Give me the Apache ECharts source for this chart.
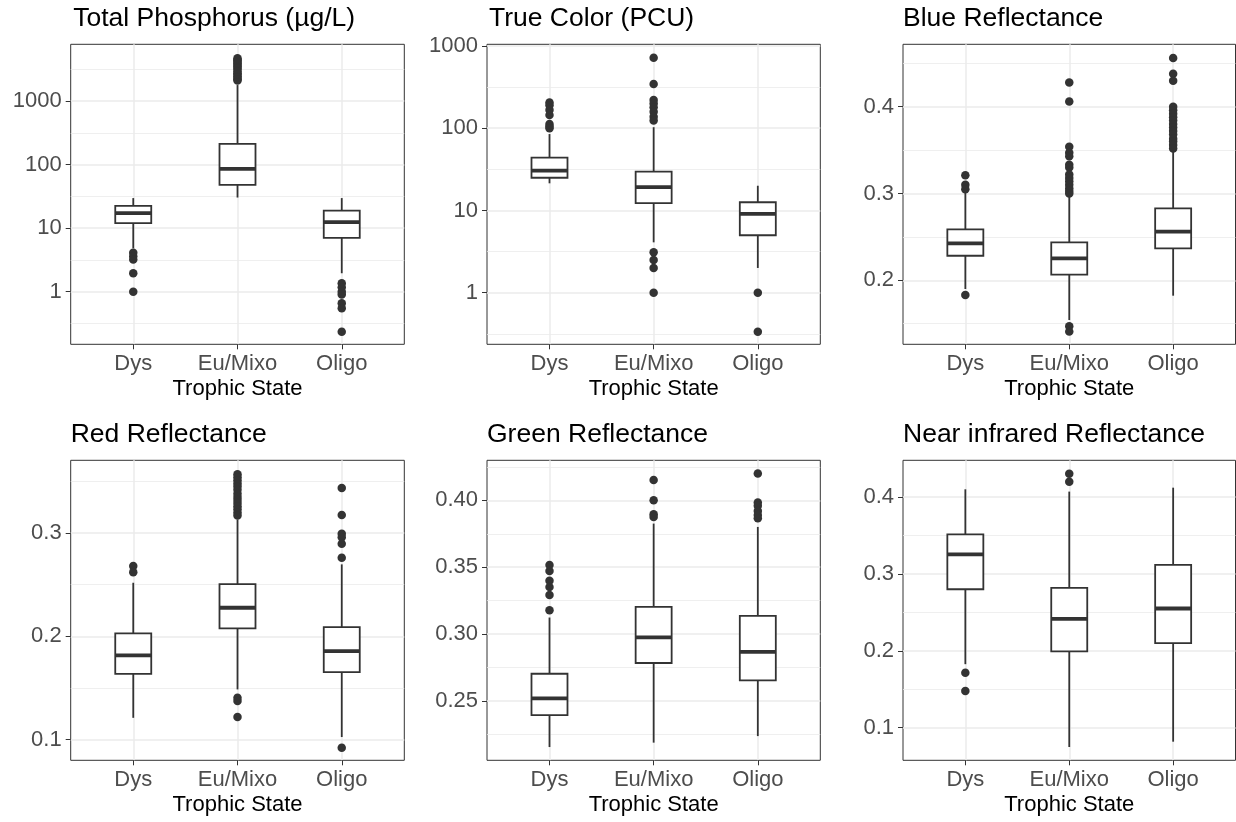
<!DOCTYPE html>
<html><head><meta charset="utf-8">
<script src="https://cdn.jsdelivr.net/npm/echarts@6/dist/echarts.min.js"></script>
<style>html,body{margin:0;padding:0;background:#fff}#c{width:1236px;height:822px}</style>
</head><body><div id="c"></div>
<script>
// ---------- data ----------
const categories = ['Dys', 'Eu/Mixo', 'Oligo'];
const xTitle = 'Trophic State';

// box stats per category: [lower whisker, Q1, median, Q3, upper whisker]
const tpBoxes = [[4.8, 12.0, 17.2, 22.4, 29.7], [30.3, 47.9, 85.5, 212, 1786], [1.95, 7.0, 12.4, 18.9, 29.7]];
const tpOutliers = [[4.1, 3.6, 3.2, 1.95, 1.0],
  [2100, 2200, 2300, 2450, 2600, 2750, 2900, 3100, 3300, 3500, 3700, 3900, 4100, 4300, 4500, 4700],
  [1.36, 1.17, 1.0, 0.9, 0.66, 0.55, 0.234]];
const tpRange = [0.1485, 7816];
const tpTicks = [1, 10, 100, 1000];
const tpMinor = [0.316, 3.16, 31.6, 316, 3162];

const tcBoxes = [[21.4, 25, 30.5, 43.9, 85], [4.1, 12.3, 19.2, 29.7, 103], [2.0, 5.0, 9.1, 12.6, 20]];
const tcOutliers = [[205, 190, 167, 145, 113, 105, 100],
  [721, 346, 221, 200, 180, 159, 138, 124, 3.1, 2.5, 2.0, 1.0],
  [1.0, 0.335]];
const tcRange = [0.236, 1049];
const tcTicks = [1, 10, 100, 1000];
const tcMinor = [0.316, 3.16, 31.6, 316];

const blueBoxes = [[0.19, 0.2283, 0.2426, 0.2588, 0.301], [0.1543, 0.2065, 0.2253, 0.2438, 0.297], [0.1823, 0.2369, 0.256, 0.2829, 0.35]];
const blueOutliers = [[0.321, 0.310, 0.305, 0.183],
  [0.428, 0.406, 0.354, 0.347, 0.343, 0.333, 0.330, 0.322, 0.318, 0.314, 0.310, 0.306, 0.303, 0.300, 0.147, 0.141],
  [0.456, 0.438, 0.430, 0.400, 0.396, 0.392, 0.388, 0.384, 0.380, 0.376, 0.372, 0.368, 0.363, 0.360, 0.356, 0.352]];
const blueRange = [0.1263, 0.4719];
const blueTicks = [0.2, 0.3, 0.4];
const blueMinor = [0.15, 0.25, 0.35, 0.45];

const redBoxes = [[0.1212, 0.1638, 0.1816, 0.2029, 0.2519], [0.1487, 0.2077, 0.2277, 0.2506, 0.313], [0.1026, 0.1654, 0.1858, 0.209, 0.2697]];
const redOutliers = [[0.268, 0.262],
  [0.357, 0.354, 0.351, 0.348, 0.345, 0.342, 0.338, 0.335, 0.332, 0.329, 0.326, 0.323, 0.320, 0.317, 0.1406, 0.1374, 0.1219],
  [0.3436, 0.3174, 0.2993, 0.296, 0.2897, 0.2761, 0.0923]];
const redRange = [0.0801, 0.3704];
const redTicks = [0.1, 0.2, 0.3];
const redMinor = [0.15, 0.25, 0.35];

const greenBoxes = [[0.2156, 0.2395, 0.252, 0.2704, 0.3124], [0.2189, 0.2784, 0.2975, 0.3203, 0.3826], [0.2238, 0.2655, 0.2868, 0.3136, 0.3801]];
const greenOutliers = [[0.3517, 0.3472, 0.3398, 0.3353, 0.3293, 0.3179],
  [0.4152, 0.40, 0.3895, 0.3875],
  [0.42, 0.3984, 0.396, 0.392, 0.389, 0.3866]];
const greenRange = [0.2057, 0.4299];
const greenTicks = [0.25, 0.30, 0.35, 0.40];
const greenMinor = [0.225, 0.275, 0.325, 0.375, 0.425];

const nirBoxes = [[0.1826, 0.28, 0.3255, 0.3515, 0.41], [0.0749, 0.1992, 0.2416, 0.2818, 0.407], [0.0818, 0.21, 0.255, 0.3117, 0.4121]];
const nirOutliers = [[0.1715, 0.1477], [0.4303, 0.4199], []];
const nirRange = [0.0576, 0.4477];
const nirTicks = [0.1, 0.2, 0.3, 0.4];
const nirMinor = [0.15, 0.25, 0.35];

// ---------- layout / style ----------
const FONT = "'Liberation Sans', Arial, Helvetica, sans-serif";
const INK = '#333333';
const GRID_COL = '#EBEBEB';
const BOX_W = 36;
const PANEL_H = 300;

const panels = [
  {title: 'Total Phosphorus (\u00b5g/L)', boxes: tpBoxes, out: tpOutliers, range: tpRange, ticks: tpTicks, minor: tpMinor, log: true, dec: 0, left: 70.7, top: 44.3, width: 333.6, tdx: 2.5},
  {title: 'True Color (PCU)', boxes: tcBoxes, out: tcOutliers, range: tcRange, ticks: tcTicks, minor: tcMinor, log: true, dec: 0, left: 487, top: 44.3, width: 333.3, tdx: 2},
  {title: 'Blue Reflectance', boxes: blueBoxes, out: blueOutliers, range: blueRange, ticks: blueTicks, minor: blueMinor, log: false, dec: 1, left: 903, top: 44.3, width: 332.5, tdx: 0},
  {title: 'Red Reflectance', boxes: redBoxes, out: redOutliers, range: redRange, ticks: redTicks, minor: redMinor, log: false, dec: 1, left: 70.7, top: 460.3, width: 333.6, tdx: 0},
  {title: 'Green Reflectance', boxes: greenBoxes, out: greenOutliers, range: greenRange, ticks: greenTicks, minor: greenMinor, log: false, dec: 2, left: 487, top: 460.3, width: 333.3, tdx: 0},
  {title: 'Near infrared Reflectance', boxes: nirBoxes, out: nirOutliers, range: nirRange, ticks: nirTicks, minor: nirMinor, log: false, dec: 1, left: 903, top: 460.3, width: 332.5, tdx: 0}
];

function renderBox(params, api) {
  const x = api.value(0);
  const lo = api.coord([x, api.value(1)]);
  const q1 = api.coord([x, api.value(2)]);
  const md = api.coord([x, api.value(3)]);
  const q3 = api.coord([x, api.value(4)]);
  const hi = api.coord([x, api.value(5)]);
  const hw = BOX_W / 2;
  const cx = lo[0];
  const ls = {stroke: INK, lineWidth: 1.8};
  return {
    type: 'group',
    children: [
      {type: 'line', shape: {x1: cx, y1: lo[1], x2: cx, y2: q1[1]}, style: ls},
      {type: 'line', shape: {x1: cx, y1: q3[1], x2: cx, y2: hi[1]}, style: ls},
      {type: 'rect', shape: {x: cx - hw, y: q3[1], width: 2 * hw, height: q1[1] - q3[1]}, style: {fill: '#fff', stroke: INK, lineWidth: 1.8}},
      {type: 'line', shape: {x1: cx - hw, y1: md[1], x2: cx + hw, y2: md[1]}, style: {stroke: INK, lineWidth: 3.8}}
    ]
  };
}

const option = {
  animation: false,
  backgroundColor: '#fff',
  title: panels.map(p => ({
    text: p.title, left: p.left + p.tdx, top: p.top - 39.6, padding: 0,
    textStyle: {fontSize: 26.5, fontWeight: 'normal', color: '#000', fontFamily: FONT}
  })),
  grid: panels.map(p => ({
    left: p.left, top: p.top, width: p.width, height: PANEL_H,
    show: true, borderColor: INK, borderWidth: 1, backgroundColor: '#fff',
    containLabel: false, outerBoundsMode: 'none'
  })),
  xAxis: panels.map((p, i) => ({
    type: 'value', gridIndex: i, min: 0.4, max: 3.6,
    name: xTitle, nameLocation: 'middle', nameGap: 34,
    nameTextStyle: {fontSize: 22, color: '#000', fontFamily: FONT},
    axisLine: {show: false, onZero: false},
    axisTick: {show: true, length: 5, lineStyle: {color: INK, width: 1}, customValues: [1, 2, 3]},
    axisLabel: {customValues: [1, 2, 3], formatter: v => categories[Math.round(v) - 1], margin: 9,
      fontSize: 22, color: '#4D4D4D', fontFamily: FONT},
    splitLine: {show: true, lineStyle: {color: GRID_COL, width: 1.5}}
  })),
  yAxis: panels.flatMap((p, i) => {
    const base = {
      type: p.log ? 'log' : 'value', logBase: 10, gridIndex: i,
      min: p.range[0], max: p.range[1]
    };
    return [
      Object.assign({}, base, {
        axisLine: {show: false, onZero: false},
        axisTick: {show: true, length: 5, lineStyle: {color: INK, width: 1}, customValues: p.ticks},
        axisLabel: {customValues: p.ticks, margin: 9, fontSize: 22, color: '#4D4D4D', fontFamily: FONT,
          formatter: v => p.log ? String(Math.round(v)) : Number(v).toFixed(p.dec)},
        splitLine: {show: true, lineStyle: {color: GRID_COL, width: 1.5}}
      }),
      Object.assign({}, base, {
        position: 'left',
        axisLine: {show: false, onZero: false},
        axisTick: {show: false, customValues: p.minor},
        axisLabel: {show: false, customValues: p.minor},
        splitLine: {show: true, lineStyle: {color: GRID_COL, width: 0.8}}
      })
    ];
  }),
  series: panels.flatMap((p, i) => [
    {
      type: 'custom', xAxisIndex: i, yAxisIndex: 2 * i, z: 3, silent: true,
      renderItem: renderBox,
      encode: {x: 0, y: [1, 2, 3, 4, 5]},
      data: p.boxes.map((b, k) => [k + 1].concat(b))
    },
    {
      type: 'scatter', xAxisIndex: i, yAxisIndex: 2 * i, z: 4, silent: true,
      symbolSize: 8.5, itemStyle: {color: INK, opacity: 1},
      data: p.out.flatMap((arr, k) => arr.map(v => [k + 1, v]))
    }
  ])
};

const chart = echarts.init(document.getElementById('c'), null, {renderer: 'canvas'});
chart.setOption(option);
</script></body></html>
